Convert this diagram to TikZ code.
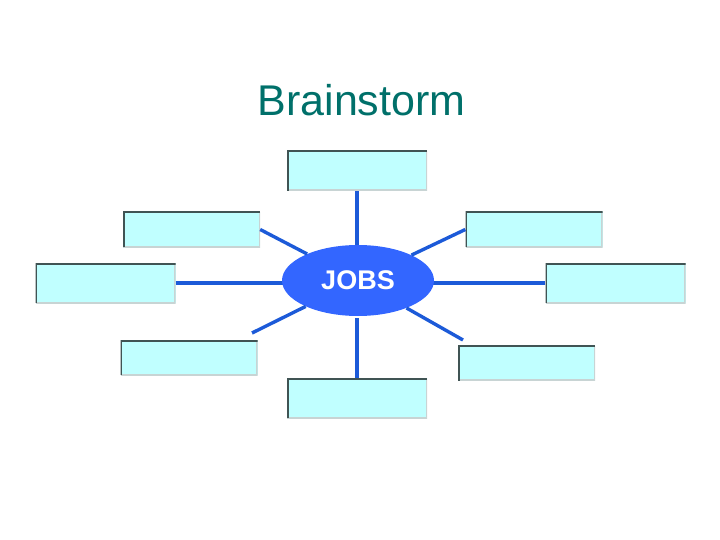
\documentclass[tikz,border=0pt]{standalone}
\usepackage{fontspec}
\setmainfont{Liberation Sans}
\usetikzlibrary{shapes.geometric}
\definecolor{titleteal}{RGB}{0,112,106}
\definecolor{boxfill}{RGB}{192,255,255}
\definecolor{darkedge}{RGB}{64,84,84}
\definecolor{lightedge}{RGB}{200,212,212}
\definecolor{jobsblue}{RGB}{51,102,255}
\definecolor{linkblue}{RGB}{28,90,216}
\tikzset{
  ideabox/.style={rectangle, fill=boxfill, draw=none, inner sep=0pt,
    path picture={
      \draw[lightedge, line width=3pt] (path picture bounding box.south west) -- (path picture bounding box.south east) -- (path picture bounding box.north east);
      \draw[darkedge, line width=3pt] (path picture bounding box.south west) -- (path picture bounding box.north west) -- (path picture bounding box.north east);
    }},
  bigbox/.style={ideabox, minimum width=140pt, minimum height=40pt},
  smallbox/.style={ideabox, minimum width=137pt, minimum height=35pt},
  link/.style={draw=linkblue, line width=3.4pt},
  hub/.style={ellipse, fill=jobsblue, draw=none, minimum width=152pt, minimum height=71pt, inner sep=0pt,
    text=white, font=\fontsize{27}{30}\selectfont\bfseries},
  titletext/.style={text=titleteal, font=\fontsize{43}{48}\selectfont, inner sep=0pt}
}
\begin{document}
\begin{tikzpicture}[x=1pt,y=-1pt]
  \useasboundingbox (0,0) rectangle (720,540);
  \node[titletext] (title) at (361.5,100) {Brainstorm};
  \node[bigbox] (top) at (357,171) {};
  \node[bigbox] (bottom) at (357,398) {};
  \node[bigbox] (left) at (105.5,283) {};
  \node[bigbox] (right) at (615.5,283) {};
  \node[smallbox] (ul) at (191.5,229.5) {};
  \node[smallbox] (ur) at (534,229.5) {};
  \node[smallbox] (ll) at (189,357.5) {};
  \node[smallbox] (lr) at (526.5,363) {};
  \coordinate (llend) at (252,333);
  \coordinate (lrend) at (463,340);
  \draw[link] (top.south) -- ++(0,60);
  \draw[link] (bottom.north) -- ++(0,-60);
  \draw[link] (left.east) -- ++(120,0);
  \draw[link] (right.west) -- ++(-120,0);
  \node[hub] (jobs) at (358,280.5) {JOBS};
  \draw[link] (jobs) -- (ul.east);
  \draw[link] (jobs) -- (ur.west);
  \draw[link] (jobs) -- (llend);
  \draw[link] (jobs) -- (lrend);
\end{tikzpicture}
\end{document}
